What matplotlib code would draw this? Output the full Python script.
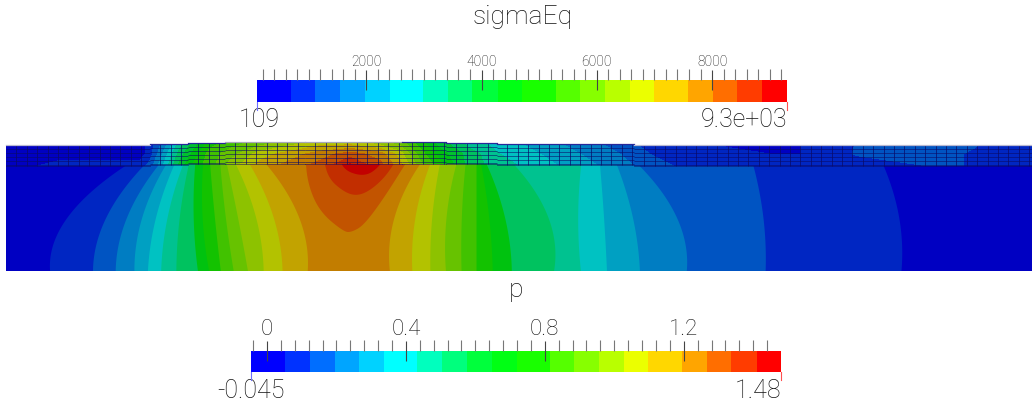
import numpy as np
import matplotlib
matplotlib.use("Agg")
import matplotlib.pyplot as plt
from matplotlib.colors import ListedColormap, BoundaryNorm
from matplotlib.path import Path
from matplotlib.patches import PathPatch

# ---------- data ----------
BAND_RGB = [(0,0,255),(0,50,255),(0,110,255),(0,165,255),(0,210,255),(0,255,255),(0,255,190),
            (0,255,125),(0,255,60),(0,255,20),(25,255,0),(85,255,0),(135,255,0),(185,255,0),
            (235,255,0),(255,215,0),(255,165,0),(255,110,0),(255,60,0),(255,0,0)]
SIGMA_EDGES = [109,694,1110,1549,1978,2406,2979,3418,3839,4285,4707,5286,5708,6141,6575,6992,7576,8015,8432,8865,9300]
P_EDGES = [-0.045,0.052,0.123,0.196,0.265,0.336,0.431,0.504,0.575,0.647,0.719,0.815,0.884,0.957,1.028,1.097,1.195,1.267,1.337,1.410,1.48]
SIGMA_TICKS = [2000,4000,6000,8000]
SIGMA_LABELS = ['2000','4000','6000','8000']
P_TICKS = [0,0.4,0.8,1.2]
P_LABELS = ['0','0.4','0.8','1.2']

# field: isoline x positions at each depth
DEPTHS = [165,200,235,270]
FIELD_BANDS = [1,2,3,4,5,6,7,9,10,11,12,13,14,15,16]
LEFT_ISO = [
 [125,83,55,50],[143,117,97,93],[157,137,118,116],[165,148,137,134],[173,162,150,148],
 [182,172,163,161],[188,182,177,176],[195,192,195,197],[203,200,205,208],[210,212,217,220],
 [220,223,228,233],[227,233,242,247],[236,250,260,263],[250,267,278,282],[267,290,305,307]]
RIGHT_ISO = [
 [883,895,901,901],[753,760,765,765],[639,666,684,686],[617,627,637,639],[600,601,606,606],
 [581,577,579,580],[514,541,552,554],[487,499,509,511],[481,486,491,492],[476,476,476,476],
 [465,462,461,461],[456,447,446,445],[439,434,430,430],[429,419,412,412],[419,399,391,389]]
CAP_BANDS = [17,18,19]
CAP_X = [[305,308,320,344,352,364,384,411],
         [323,328,344,357,371,387,399],
         [338,344,361,374,388]]
CAP_Y = [[155,185,212,232,232,225,198,155],
         [155,178,192,196,190,175,155],
         [155,170,176,172,155]]

STRIP_X = [6,60,100,140,150,165,180,195,210,230,260,290,320,350,380,400,420,440,470,500,540,580,620,650,700,770,800,830,860,950,1032]
STRIP_TOP = [0,0,0.5,0,1,3,6,8,10,11,12,13,14,14,13,12,10,8,6,5,4,3,2,1,0.5,0.5,0.5,1,1.6,1.7,1.2]
STRIP_MID = [0,0,0,0,1,4,7,9,11,12,14,15,16,17,16,14,11,9,7,5.5,4.5,3.5,2.5,1.5,0.6,0.5,0.5,1.2,1.6,1.6,1]
STRIP_BOT = [0,1,1,1,2,5,8,10,11,13,15,16,17,19,17,15,12,10,7,6,5,4,3,2,1,1.5,1,0.5,1,1.6,1]
STRIP_Y = [143,154,167]

SEG_X = [6,150,188,225,305,402,446,497,634,1032]
SEG_TOP = [144.5,144,143,142.3,141.5,142,143,144,144.5]
SEG_BOT = [166,165,164,163.5,163.5,163.5,164.3,165,166]
SEG_EDGE = ['#b8b8d0','#28289a','#28289a','#a8a8b8','#a8a8b8','#28289a','#28289a','#28289a','#b8b8d0']

# ---------- figure ----------
W,H = 1032,407
plt.rcParams['font.family'] = ['Roboto','Liberation Sans','DejaVu Sans']
plt.rcParams['font.weight'] = 'light'
fig = plt.figure(figsize=(W/100,H/100),dpi=100)
ax = fig.add_axes([0,0,1,1]); ax.set_xlim(0,W); ax.set_ylim(H,0); ax.axis('off')
DIM = 0.76
dim = [tuple(c/255*DIM for c in rgb) for rgb in BAND_RGB]

yf = np.linspace(158,270.5,120)
def curve(vals):
    return np.polyval(np.polyfit(DEPTHS,vals,2),yf)
ax.fill_betweenx(yf,6,W,color=dim[0],lw=0)
for i,b in enumerate(FIELD_BANDS):
    ax.fill_betweenx(yf,curve(LEFT_ISO[i]),np.minimum(curve(RIGHT_ISO[i]),W),color=dim[b],lw=0)

def chaikin(x,y,n=3):
    p = np.column_stack([x,y])
    for _ in range(n):
        q = [p[0]]
        for a,b in zip(p[:-1],p[1:]):
            q += [0.75*a+0.25*b,0.25*a+0.75*b]
        q.append(p[-1]); p = np.array(q)
    return p[:,0],p[:,1]
for b,cx,cy in zip(CAP_BANDS,CAP_X,CAP_Y):
    sx,sy = chaikin(cx,cy)
    ax.fill(sx,sy,color=dim[b],lw=0)

# strip contour, clipped to the stepped outline
levels = np.arange(-0.5,20.5,1)
cmap = ListedColormap(dim); norm = BoundaryNorm(levels,20)
X,Y = np.meshgrid(STRIP_X,STRIP_Y)
Z = np.array([STRIP_TOP,STRIP_MID,STRIP_BOT])
xs,ys = [],[]
for i in range(len(SEG_TOP)):
    xs += [SEG_X[i],SEG_X[i+1]]; ys += [SEG_TOP[i],SEG_TOP[i]]
for i in reversed(range(len(SEG_BOT))):
    xs += [SEG_X[i+1],SEG_X[i]]; ys += [SEG_BOT[i],SEG_BOT[i]]
outline = PathPatch(Path(np.column_stack([xs,ys])),transform=ax.transData,fc='none',ec='none')
ax.add_patch(outline)
cs = ax.contourf(X,Y,Z,levels=levels,cmap=cmap,norm=norm,antialiased=False)
cs.set_clip_path(outline)

# mesh
mc = (0.04,0.04,0.40)
for i in range(len(SEG_TOP)):
    x0,x1,t,bt = SEG_X[i],SEG_X[i+1],SEG_TOP[i],SEG_BOT[i]
    rows = np.linspace(t,bt-1.5,6)[1:]
    ax.hlines(rows,x0,x1,color=mc,lw=0.6,alpha=0.65)
    ax.vlines(np.arange(x0+10.4,x1+0.1,10.4),t,bt,color=mc,lw=0.7,alpha=0.7)
    ax.plot([x0,x1],[t,t],color=SEG_EDGE[i],lw=0.9)
    ax.plot([x0,x1],[bt,bt],color=mc,lw=0.6,alpha=0.6)

def colorbar(x0,x1,y0,y1,edges,ticks,labels,minor,lo,hi,tsize,lo_x,hi_x,lo_ha,hi_ha,end_y):
    a = fig.add_axes([x0/W,1-y1/H,(x1-x0)/W,(y1-y0)/H])
    a.set_xlim(edges[0],edges[-1]); a.set_ylim(0,1)
    for k in range(20):
        a.axvspan(edges[k],edges[k+1],color=tuple(c/255 for c in BAND_RGB[k]),lw=0)
    for s in a.spines.values(): s.set_visible(False)
    a.yaxis.set_visible(False)
    a.xaxis.tick_top()
    a.set_xticks(ticks); a.set_xticklabels(labels,fontsize=tsize,color='#111111')
    a.set_xticks(minor,minor=True)
    a.tick_params(axis='x',which='major',direction='inout',length=14,width=0.8,color='#444444',pad=1)
    a.tick_params(axis='x',which='minor',direction='out',length=7.6,width=0.8,color='#777777')
    a.plot([edges[0]]*2,[0,-0.36],color='#7070ff',lw=0.8,clip_on=False)
    a.plot([edges[-1]]*2,[0,-0.36],color='#ff5050',lw=0.8,clip_on=False)
    ax.text(lo_x,end_y,lo,fontsize=18,ha=lo_ha,va='center',color='#111111')
    ax.text(hi_x,end_y,hi,fontsize=18,ha=hi_ha,va='center',color='#111111')
    return a

colorbar(257.3,787,80,101.7,SIGMA_EDGES,SIGMA_TICKS,SIGMA_LABELS,np.arange(200,9201,200),
         '109','9.3e+03',10,259,787,'center','right',120)
colorbar(251.3,781,350.7,372,P_EDGES,P_TICKS,P_LABELS,np.arange(-0.04,1.441,0.04),
         '-0.045','1.48',16,251,781,'center','right',391)
ax.text(523,17,'sigmaEq',fontsize=19,ha='center',va='center',color='#111111')
ax.text(516,290,'p',fontsize=19,ha='center',va='center',color='#111111')
fig.savefig('out.png',dpi=100)
